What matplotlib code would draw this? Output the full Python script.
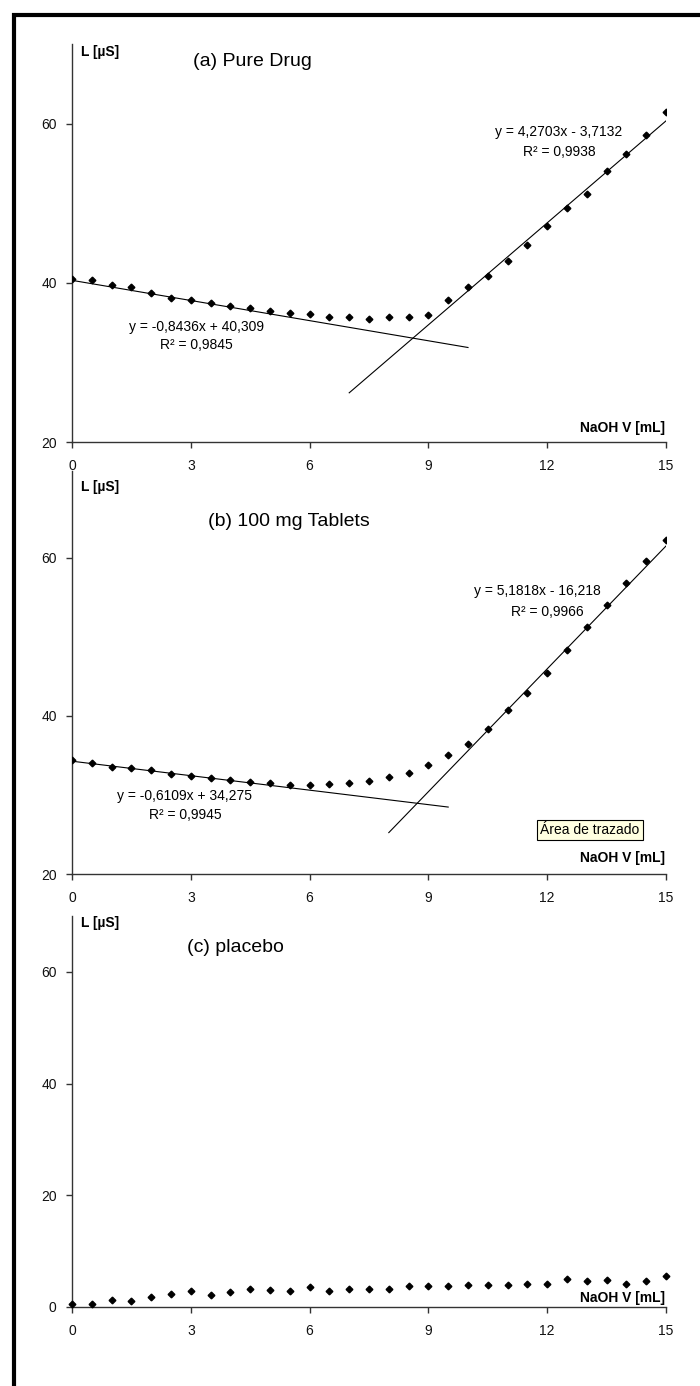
import matplotlib.pyplot as plt
from matplotlib.lines import Line2D
import numpy as np

plt.rcParams['font.family'] = ['Liberation Sans', 'DejaVu Sans']

# titration volumes (mL)
volume = [0, 0.5, 1, 1.5, 2, 2.5, 3, 3.5, 4, 4.5, 5, 5.5, 6, 6.5, 7, 7.5,
          8, 8.5, 9, 9.5, 10, 10.5, 11, 11.5, 12, 12.5, 13, 13.5, 14, 14.5, 15]

# conductance readings (uS)
pure_drug = [40.5, 40.3, 39.7, 39.5, 38.7, 38.1, 37.8, 37.5, 37.1, 36.8, 36.5,
             36.2, 36.1, 35.7, 35.7, 35.5, 35.7, 35.7, 36.0, 37.8, 39.5, 40.8,
             42.7, 44.8, 47.1, 49.4, 51.2, 54.1, 56.2, 58.6, 61.5]
tablets = [34.4, 34.1, 33.6, 33.4, 33.1, 32.7, 32.4, 32.2, 31.9, 31.7, 31.5,
           31.3, 31.3, 31.4, 31.5, 31.8, 32.3, 32.8, 33.8, 35.0, 36.5, 38.3,
           40.7, 42.9, 45.5, 48.3, 51.2, 54.0, 56.8, 59.6, 62.3]
placebo = [0.6, 0.6, 1.3, 1.1, 1.8, 2.3, 2.8, 2.1, 2.6, 3.3, 3.0, 2.8, 3.5,
           2.8, 3.3, 3.3, 3.3, 3.7, 3.7, 3.7, 4.0, 4.0, 4.0, 4.2, 4.2, 5.0,
           4.6, 4.8, 4.1, 4.6, 5.6]

# linear trend lines: (slope, intercept, x range)
fits_a = [(-0.8436, 40.309, (0, 10)), (4.2703, -3.7132, (7, 15))]
fits_b = [(-0.6109, 34.275, (0, 9.5)), (5.1818, -16.218, (8, 15))]

W, H = 700, 1386
fig = plt.figure(figsize=(W / 100, H / 100), dpi=100)
fig.patch.set_facecolor('white')


def px_box(top, bottom):
    return [72 / W, 1 - bottom / H, (666 - 72) / W, (bottom - top) / H]


def style_axis(ax, ylim, yticks):
    ax.set_xlim(0, 15)
    ax.set_ylim(*ylim)
    ax.set_xticks([0, 3, 6, 9, 12, 15])
    ax.set_yticks(yticks)
    ax.spines['top'].set_visible(False)
    ax.spines['right'].set_visible(False)
    for s in ('left', 'bottom'):
        ax.spines[s].set_color('#333333')
        ax.spines[s].set_linewidth(1.0)
    ax.tick_params(axis='both', direction='out', length=4, width=1.0,
                   color='#333333', labelsize=10, labelcolor='#111111')
    ax.tick_params(axis='y', pad=7)
    ax.tick_params(axis='x', pad=8)
    ax.patch.set_alpha(0)


def draw_fits(ax, fits):
    for slope, inter, (x0, x1) in fits:
        xs = np.array([x0, x1])
        ax.plot(xs, slope * xs + inter, color='black', lw=0.8)


# (a) pure drug
ax_a = fig.add_axes(px_box(44, 442))
style_axis(ax_a, (20, 70), [20, 40, 60])
draw_fits(ax_a, fits_a)
ax_a.plot(volume, pure_drug, 'D', color='black', ms=3.4, zorder=3)
ax_a.text(12.3, 58.9, 'y = 4,2703x - 3,7132', ha='center', va='center', fontsize=10)
ax_a.text(12.3, 56.4, 'R² = 0,9938', ha='center', va='center', fontsize=10)
ax_a.text(3.15, 34.5, 'y = -0,8436x + 40,309', ha='center', va='center', fontsize=10)
ax_a.text(3.15, 32.2, 'R² = 0,9845', ha='center', va='center', fontsize=10)

# (b) 100 mg tablets
ax_b = fig.add_axes(px_box(471, 874))
style_axis(ax_b, (20, 71), [20, 40, 60])
draw_fits(ax_b, fits_b)
ax_b.plot(volume, tablets, 'D', color='black', ms=3.4, zorder=3)
ax_b.text(11.75, 55.8, 'y = 5,1818x - 16,218', ha='center', va='center', fontsize=10)
ax_b.text(12.0, 53.2, 'R² = 0,9966', ha='center', va='center', fontsize=10)
ax_b.text(2.85, 29.9, 'y = -0,6109x + 34,275', ha='center', va='center', fontsize=10)
ax_b.text(2.85, 27.5, 'R² = 0,9945', ha='center', va='center', fontsize=10)

# (c) placebo
ax_c = fig.add_axes(px_box(916, 1307))
style_axis(ax_c, (0, 70), [0, 20, 40, 60])
ax_c.plot(volume, placebo, 'D', color='black', ms=3.4, zorder=3, clip_on=False)

# axis captions and titles (figure pixel positions)
def ftext(x, y, s, **kw):
    fig.text(x / W, 1 - y / H, s, **kw)

for y_lab, y_title, title, x_title, y_naoh in [
        (52, 62, '(a) Pure Drug', 193, 428),
        (487, 521, '(b) 100 mg Tablets', 208, 858),
        (923, 948, '(c) placebo', 187, 1298)]:
    ftext(81, y_lab, 'L [µS]', fontsize=10, fontweight='bold', va='center')
    ftext(x_title, y_title, title, fontsize=14, va='center')
    ftext(665, y_naoh, 'NaOH V [mL]', fontsize=10, fontweight='bold',
          va='center', ha='right')

# Excel tooltip left in the picture
ftext(590, 830, 'Área de trazado', fontsize=10, ha='center', va='center',
      bbox=dict(boxstyle='square,pad=0.25', facecolor='#FFFFE1',
                edgecolor='black', lw=0.8))

# black frame on top and left
fig.add_artist(Line2D([12 / W, 1], [1 - 15 / H, 1 - 15 / H], color='black',
                      lw=3, solid_capstyle='butt', transform=fig.transFigure))
fig.add_artist(Line2D([14 / W, 14 / W], [1 - 13 / H, 0], color='black',
                      lw=3, solid_capstyle='butt', transform=fig.transFigure))

fig.savefig('out.png', dpi=100)
